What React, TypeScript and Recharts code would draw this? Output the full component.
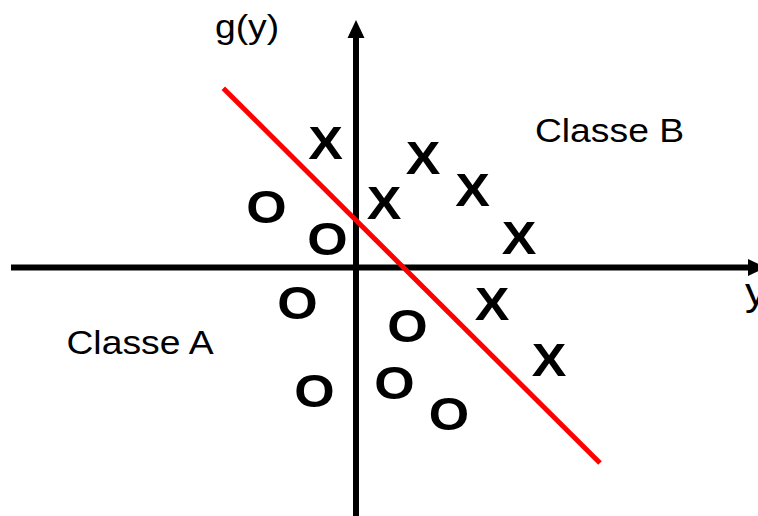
import React from 'react';
import { ScatterChart, Scatter, XAxis, YAxis, ReferenceLine } from 'recharts';

// Diagram coordinates (origin = axis intersection)
const classBX = [-0.61, 1.34, 0.56, 2.33, 3.26, 2.72, 3.86];
const classBY = [2.49, 2.19, 1.29, 1.55, 0.59, -0.73, -1.85];
const classAX = [-1.79, -0.57, -1.17, 1.03, -0.83, 0.77, 1.86];
const classAY = [1.22, 0.57, -0.70, -1.16, -2.46, -2.30, -2.93];

const labelTexts = ['Classe B', 'Classe A', 'g(y)', 'y'];
const labelX = [5.07, -4.32, -2.18, 7.78];
const labelY = [2.52, -1.73, 4.59, -0.75];

const boundaryStart = { x: -2.654, y: 3.584 };
const boundaryEnd = { x: 4.88, y: -3.91 };

const hAxis = [{ x: -6.9, y: 0 }, { x: 8.2, y: 0 }];
const vAxis = [{ x: 0, y: -5.2 }, { x: 0, y: 4.95 }];

const classB = classBX.map((x, i) => ({ x, y: classBY[i], g: 'X' }));
const classA = classAX.map((x, i) => ({ x, y: classAY[i], g: 'O' }));
const labels = labelTexts.map((t, i) => ({ x: labelX[i], y: labelY[i], t }));

const FONT = '"Liberation Sans", Arial, sans-serif';
const STRETCH = 1.13;

const Glyph = (props: any) => {
  const { cx, cy, payload } = props;
  if (cx == null || cy == null) return null;
  const size = 46;
  return (
    <text
      transform={`translate(${cx},${cy + 0.358 * size}) scale(${STRETCH},1)`}
      x={0}
      y={0}
      textAnchor="middle"
      fontFamily={FONT}
      fontWeight="bold"
      fontSize={size}
      fill="#000"
    >
      {payload.g}
    </text>
  );
};

const Label = (props: any) => {
  const { cx, cy, payload } = props;
  if (cx == null || cy == null) return null;
  const isY = payload.t === 'y';
  const size = isY ? 38 : 33;
  return (
    <text
      transform={`translate(${cx},${cy}) scale(${STRETCH},1)`}
      x={0}
      y={0}
      textAnchor={isY ? 'start' : 'middle'}
      fontFamily={FONT}
      fontSize={size}
      fill="#000"
    >
      {payload.t}
    </text>
  );
};

const ArrowLine = (props: any) => {
  const { x1, y1, x2, y2 } = props;
  if ([x1, y1, x2, y2].some((v) => v == null || isNaN(v))) return null;
  const dx = x2 - x1;
  const dy = y2 - y1;
  const len = Math.sqrt(dx * dx + dy * dy);
  const ux = dx / len;
  const uy = dy / len;
  const headLen = 18;
  const headHalf = 8.5;
  const bx = x2 - ux * headLen;
  const by = y2 - uy * headLen;
  const px = -uy;
  const py = ux;
  const pts = `${x2},${y2} ${bx + px * headHalf},${by + py * headHalf} ${bx - px * headHalf},${by - py * headHalf}`;
  return (
    <g>
      <line x1={x1} y1={y1} x2={bx + ux * 1} y2={by + uy * 1} stroke="#000" strokeWidth={6} />
      <polygon points={pts} fill="#000" />
    </g>
  );
};

export default function App() {
  return (
    <div style={{ position: 'absolute', left: 0, top: 0, width: 758, height: 516, background: '#fff' }}>
      <ScatterChart width={758} height={516} margin={{ top: 0, right: 0, bottom: 0, left: 0 }}>
        <XAxis type="number" dataKey="x" domain={[-7.12, 8.04]} hide allowDataOverflow />
        <YAxis type="number" dataKey="y" domain={[-4.97, 5.35]} hide allowDataOverflow />
        <ReferenceLine segment={hAxis} ifOverflow="visible" shape={ArrowLine} />
        <ReferenceLine segment={vAxis} ifOverflow="visible" shape={ArrowLine} />
        <ReferenceLine
          segment={[boundaryStart, boundaryEnd]}
          ifOverflow="visible"
          stroke="#ff0000"
          strokeWidth={5}
        />
        <Scatter data={classB} shape={Glyph} isAnimationActive={false} />
        <Scatter data={classA} shape={Glyph} isAnimationActive={false} />
        <Scatter data={labels} shape={Label} isAnimationActive={false} />
      </ScatterChart>
    </div>
  );
}
